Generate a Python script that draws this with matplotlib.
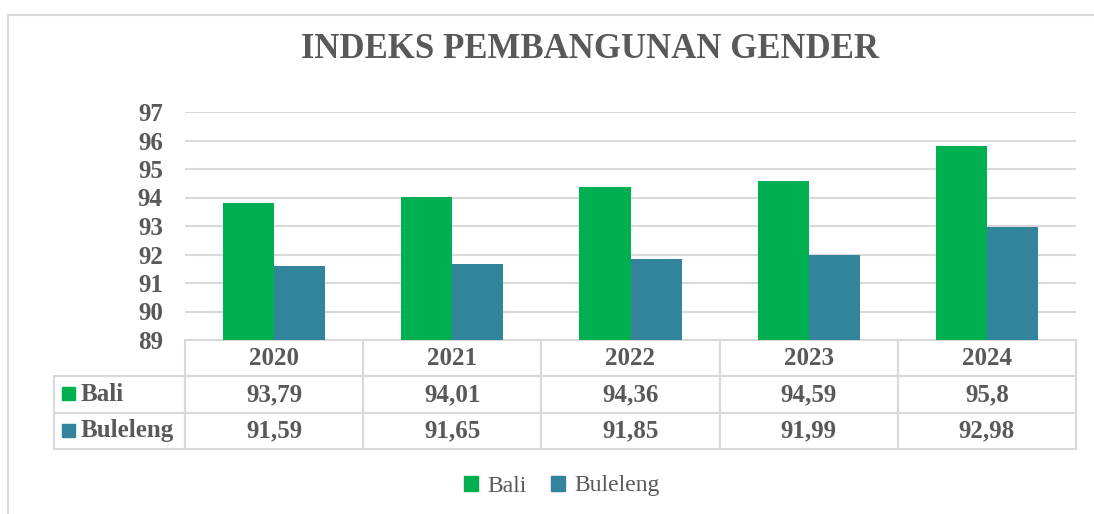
import numpy as np
import matplotlib.pyplot as plt
from matplotlib.patches import Rectangle
from matplotlib.lines import Line2D

years = ["2020", "2021", "2022", "2023", "2024"]
bali = [93.79, 94.01, 94.36, 94.59, 95.8]
buleleng = [91.59, 91.65, 91.85, 91.99, 92.98]
bali_labels = ["93,79", "94,01", "94,36", "94,59", "95,8"]
buleleng_labels = ["91,59", "91,65", "91,85", "91,99", "92,98"]
series = ["Bali", "Buleleng"]

GREEN = "#00B050"
TEAL = "#31849B"
TXT = "#595959"
GRID = "#D9D9D9"

plt.rcParams["font.family"] = "Liberation Serif"

W, H = 1094, 514
fig = plt.figure(figsize=(W / 100, H / 100), dpi=100)
ax = fig.add_axes([185 / W, 1 - 340 / H, (1076 - 185) / W, (340 - 112) / H])

# chart border (left + top)
fig.add_artist(Line2D([8 / W, 8 / W], [0, 1 - 15 / H], color=GRID, lw=1.5))
fig.add_artist(Line2D([8 / W, 1], [1 - 15 / H, 1 - 15 / H], color=GRID, lw=1.5))

x = np.arange(len(years))
bw = 0.287
ax.bar(x - bw / 2, bali, bw, color=GREEN, zorder=3)
ax.bar(x + bw / 2, buleleng, bw, color=TEAL, zorder=3)

ax.set_xlim(-0.5, len(years) - 0.5)
ax.set_ylim(89, 97)
ax.set_yticks(range(89, 98))
ax.yaxis.grid(True, color=GRID, lw=1.5, zorder=0)
ax.set_xticks([])
ax.tick_params(axis="y", length=0, pad=16, labelsize=18, labelcolor=TXT)
for t in ax.get_yticklabels():
    t.set_fontweight("bold")
for s in ax.spines.values():
    s.set_visible(False)

fig.text(590 / W, 1 - 50 / H, "INDEKS PEMBANGUNAN GENDER", fontsize=25,
         fontweight="bold", color=TXT, ha="center", va="center")

# data table under the plot
cell_text = [[""] + years,
             ["Bali"] + bali_labels,
             ["Buleleng"] + buleleng_labels]
axw = 1076 - 185
axh = 340 - 112
lab_w = (185 - 54) / axw
col_w = 1.0 / len(years)
tbl = ax.table(cellText=cell_text, cellLoc="center",
               colWidths=[lab_w] + [col_w] * len(years),
               bbox=[-lab_w, -(449 - 340) / axh, 1 + lab_w, (449 - 340) / axh])
tbl.auto_set_font_size(False)
for (r, c), cell in tbl.get_celld().items():
    cell.set_edgecolor(GRID)
    cell.set_linewidth(1.5)
    cell.get_text().set_color(TXT)
    cell.get_text().set_fontsize(18)
    cell.get_text().set_fontweight("bold")
    if c == 0:
        cell.get_text().set_ha("left")
        cell._loc = "left"
        cell.PAD = 27 / 131
    if r == 0 and c == 0:
        cell.visible_edges = ""

# colour keys in the row-label cells
for i, col in enumerate([GREEN, TEAL]):
    yc = -(375 - 340 + 37 * i + 18.5) / axh
    ax.add_patch(Rectangle((-lab_w + 8 / axw, yc - 6.5 / axh), 13 / axw, 13 / axh,
                           transform=ax.transAxes, color=col, clip_on=False))

handles = [Rectangle((0, 0), 1, 1, color=GREEN), Rectangle((0, 0), 1, 1, color=TEAL)]
leg = fig.legend(handles, series, loc="center", bbox_to_anchor=(562 / W, 1 - 486 / H),
                 ncol=2, frameon=False, fontsize=17, handlelength=0.6, handleheight=0.6,
                 handletextpad=0.4, columnspacing=1.0)
for t in leg.get_texts():
    t.set_color(TXT)

fig.savefig("out.png", dpi=100)
